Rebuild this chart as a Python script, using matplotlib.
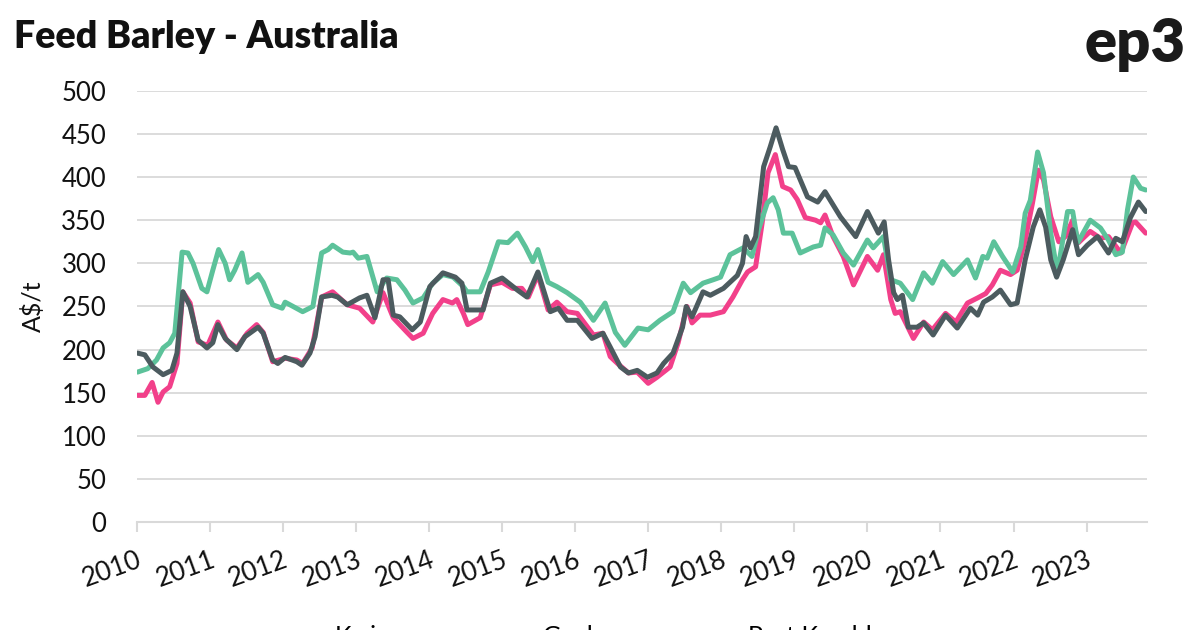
"""Feed Barley - Australia: port prices (A$/t), 2010-2023."""

import matplotlib

matplotlib.use("Agg")
import matplotlib.pyplot as plt  # noqa: E402

plt.rcParams["font.family"] = ["Lato", "DejaVu Sans"]

# values, x as decimal year
kwinana_x = [
    2010.01, 2010.11, 2010.21, 2010.29, 2010.36, 2010.45, 2010.55, 2010.63,
    2010.73, 2010.84, 2010.97, 2011.11, 2011.23, 2011.37, 2011.51, 2011.64,
    2011.73, 2011.86, 2012.03, 2012.19, 2012.27, 2012.40, 2012.53, 2012.68,
    2012.88, 2013.05, 2013.23, 2013.37, 2013.51, 2013.70, 2013.78, 2013.92,
    2014.05, 2014.19, 2014.32, 2014.38, 2014.47, 2014.53, 2014.70, 2014.84,
    2015.00, 2015.14, 2015.27, 2015.36, 2015.49, 2015.63, 2015.75, 2015.89,
    2016.03, 2016.25, 2016.38, 2016.48, 2016.58, 2016.73, 2016.85, 2017.00,
    2017.12, 2017.30, 2017.41, 2017.53, 2017.60, 2017.71, 2017.85, 2018.03,
    2018.16, 2018.29, 2018.36, 2018.47, 2018.56, 2018.64, 2018.74, 2018.84,
    2018.95, 2019.04, 2019.15, 2019.29, 2019.36, 2019.42, 2019.53, 2019.67,
    2019.81, 2020.00, 2020.14, 2020.22, 2020.32, 2020.38, 2020.45, 2020.63,
    2020.77, 2020.89, 2021.07, 2021.21, 2021.37, 2021.51, 2021.62, 2021.71,
    2021.82, 2021.96, 2022.05, 2022.16, 2022.26, 2022.34, 2022.41, 2022.51,
    2022.62, 2022.71, 2022.81, 2022.89, 2023.05, 2023.19, 2023.30, 2023.47,
    2023.63, 2023.67, 2023.81,
]
kwinana = [
    147, 147, 162, 139, 151, 157, 184, 267,
    254, 209, 205, 232, 211, 202, 219, 229,
    220, 186, 190, 188, 184, 202, 261, 267,
    252, 248, 232, 266, 237, 220, 213, 219,
    242, 258, 254, 258, 242, 229, 237, 275,
    278, 271, 271, 261, 287, 246, 255, 244,
    242, 217, 219, 192, 184, 173, 174, 161,
    168, 180, 208, 250, 231, 240, 240, 244,
    261, 281, 290, 296, 347, 405, 426, 389,
    385, 374, 353, 350, 347, 356, 331, 308,
    275, 308, 292, 310, 258, 242, 244, 213,
    232, 223, 242, 232, 254, 260, 265, 275,
    292, 287, 292, 327, 370, 408, 397, 354,
    325, 331, 350, 324, 337, 329, 331, 312,
    347, 348, 335,
]

geelong_x = [
    2010.01, 2010.15, 2010.27, 2010.36, 2010.45, 2010.52, 2010.62, 2010.70,
    2010.77, 2010.89, 2010.96, 2011.04, 2011.12, 2011.21, 2011.27, 2011.34,
    2011.44, 2011.52, 2011.66, 2011.73, 2011.86, 2011.99, 2012.03, 2012.14,
    2012.27, 2012.41, 2012.53, 2012.62, 2012.68, 2012.82, 2012.92, 2012.96,
    2013.03, 2013.15, 2013.29, 2013.42, 2013.56, 2013.67, 2013.78, 2013.92,
    2014.05, 2014.19, 2014.33, 2014.47, 2014.52, 2014.70, 2014.81, 2014.95,
    2015.08, 2015.21, 2015.32, 2015.42, 2015.49, 2015.63, 2015.75, 2015.89,
    2016.07, 2016.25, 2016.41, 2016.55, 2016.68, 2016.86, 2017.00, 2017.16,
    2017.34, 2017.48, 2017.58, 2017.75, 2017.89, 2017.99, 2018.12, 2018.30,
    2018.42, 2018.51, 2018.63, 2018.71, 2018.78, 2018.85, 2018.97, 2019.08,
    2019.26, 2019.36, 2019.42, 2019.53, 2019.67, 2019.81, 2020.00, 2020.08,
    2020.22, 2020.32, 2020.45, 2020.62, 2020.77, 2020.89, 2021.03, 2021.18,
    2021.37, 2021.48, 2021.58, 2021.64, 2021.73, 2021.85, 2021.99, 2022.10,
    2022.16, 2022.23, 2022.33, 2022.41, 2022.51, 2022.60, 2022.74, 2022.81,
    2022.88, 2023.05, 2023.19, 2023.30, 2023.40, 2023.49, 2023.56, 2023.64,
    2023.74, 2023.81,
]
geelong = [
    174, 178, 188, 202, 208, 219, 313, 312,
    300, 271, 267, 292, 316, 300, 281, 292,
    312, 278, 287, 278, 252, 248, 255, 250,
    244, 250, 312, 316, 321, 313, 312, 313,
    306, 308, 267, 283, 281, 269, 254, 260,
    277, 287, 284, 273, 267, 267, 290, 325,
    324, 335, 319, 302, 316, 278, 273, 266,
    255, 234, 254, 220, 205, 225, 223, 234,
    244, 277, 266, 277, 281, 284, 310, 318,
    308, 339, 370, 376, 362, 335, 335, 312,
    319, 321, 341, 333, 312, 298, 327, 318,
    331, 281, 277, 258, 289, 277, 302, 287,
    304, 283, 308, 306, 325, 308, 290, 319,
    358, 373, 429, 405, 335, 289, 360, 360,
    324, 350, 341, 327, 310, 313, 362, 400,
    387, 385,
]

port_kembla_x = [
    2010.01, 2010.11, 2010.22, 2010.36, 2010.48, 2010.55, 2010.63, 2010.73,
    2010.84, 2010.96, 2011.04, 2011.11, 2011.21, 2011.37, 2011.48, 2011.66,
    2011.73, 2011.86, 2011.93, 2012.03, 2012.19, 2012.26, 2012.37, 2012.44,
    2012.53, 2012.67, 2012.75, 2012.88, 2013.05, 2013.15, 2013.26, 2013.37,
    2013.44, 2013.51, 2013.60, 2013.77, 2013.88, 2014.01, 2014.19, 2014.36,
    2014.45, 2014.52, 2014.74, 2014.84, 2015.00, 2015.21, 2015.34, 2015.49,
    2015.66, 2015.77, 2015.89, 2016.03, 2016.23, 2016.38, 2016.48, 2016.62,
    2016.73, 2016.85, 2016.99, 2017.12, 2017.21, 2017.34, 2017.47, 2017.52,
    2017.60, 2017.75, 2017.85, 2018.03, 2018.22, 2018.29, 2018.34, 2018.40,
    2018.47, 2018.58, 2018.67, 2018.75, 2018.84, 2018.92, 2019.01, 2019.18,
    2019.32, 2019.42, 2019.63, 2019.84, 2020.00, 2020.15, 2020.23, 2020.29,
    2020.36, 2020.41, 2020.48, 2020.56, 2020.68, 2020.77, 2020.90, 2021.07,
    2021.23, 2021.41, 2021.51, 2021.59, 2021.71, 2021.82, 2021.96, 2022.05,
    2022.16, 2022.27, 2022.36, 2022.44, 2022.51, 2022.59, 2022.68, 2022.81,
    2022.89, 2023.01, 2023.15, 2023.30, 2023.40, 2023.49, 2023.60, 2023.71,
    2023.81,
]
port_kembla = [
    196, 194, 180, 171, 176, 196, 267, 250,
    211, 202, 208, 229, 213, 200, 215, 226,
    219, 188, 184, 191, 186, 182, 196, 215,
    261, 263, 261, 252, 260, 263, 237, 281,
    281, 240, 238, 223, 232, 273, 289, 284,
    277, 246, 246, 277, 283, 269, 261, 290,
    244, 248, 234, 234, 213, 219, 203, 180,
    173, 176, 168, 173, 184, 196, 226, 250,
    238, 267, 263, 271, 286, 300, 331, 318,
    331, 412, 435, 457, 432, 412, 411, 377,
    371, 383, 354, 331, 360, 335, 348, 304,
    266, 258, 263, 226, 226, 231, 217, 240,
    225, 248, 240, 255, 261, 269, 252, 254,
    304, 342, 362, 342, 304, 284, 304, 339,
    310, 321, 331, 312, 329, 325, 353, 371,
    360,
]

years = list(range(2010, 2024))
y_ticks = list(range(0, 501, 50))

PINK = "#f2408a"
GREEN = "#5cc29a"
GRAY = "#4c5b5f"
GRID = "#d9d9d9"
INK = "#111111"


def main() -> None:
    fig = plt.figure(figsize=(12, 6.3), dpi=100)
    ax = fig.add_axes([0.114, 0.171, 0.842, 0.685])

    style = dict(lw=3.6, solid_joinstyle="round", solid_capstyle="round")
    ax.plot(kwinana_x, kwinana, color=PINK, label="Kwinana", **style)
    ax.plot(geelong_x, geelong, color=GREEN, label="Geelong", **style)
    ax.plot(port_kembla_x, port_kembla, color=GRAY, label="Port Kembla",
            **style)

    ax.set_xlim(2010, 2023.83)
    ax.set_ylim(0, 500)
    ax.set_yticks(y_ticks)
    ax.set_xticks(years)
    ax.set_xticklabels([str(y) for y in years], rotation=20,
                       ha="right", va="top", rotation_mode="anchor")

    for side in ("top", "right", "left"):
        ax.spines[side].set_visible(False)
    ax.spines["bottom"].set_color(GRID)
    ax.spines["bottom"].set_linewidth(1.5)
    ax.grid(axis="y", color=GRID, lw=1.3)
    ax.set_axisbelow(True)
    ax.tick_params(axis="x", colors=GRID, length=7, width=1.5, pad=11,
                   labelsize=19, labelcolor=INK)
    ax.tick_params(axis="y", length=0, pad=22, labelsize=18.5,
                   labelcolor=INK)
    ax.set_ylabel("A$/t", fontsize=18, color=INK, labelpad=12)

    fig.text(0.012, 1 - 37 / 630, "Feed Barley - Australia", fontsize=27,
             fontweight="heavy", va="center", ha="left", color=INK)
    fig.text(0.988, 1 - 45 / 630, "ep3", fontsize=43, fontweight="heavy",
             va="center", ha="right", color="#1a1a1a")

    # legend sits mostly below the bottom edge, as in the reference
    fig.legend(loc="upper left", bbox_to_anchor=(0.208, 1 - 615 / 630),
               ncol=3, frameon=False, fontsize=18, handlelength=2.2,
               columnspacing=1.55, borderaxespad=0)

    fig.savefig("out.png", dpi=100)
    plt.close(fig)


if __name__ == "__main__":
    main()
